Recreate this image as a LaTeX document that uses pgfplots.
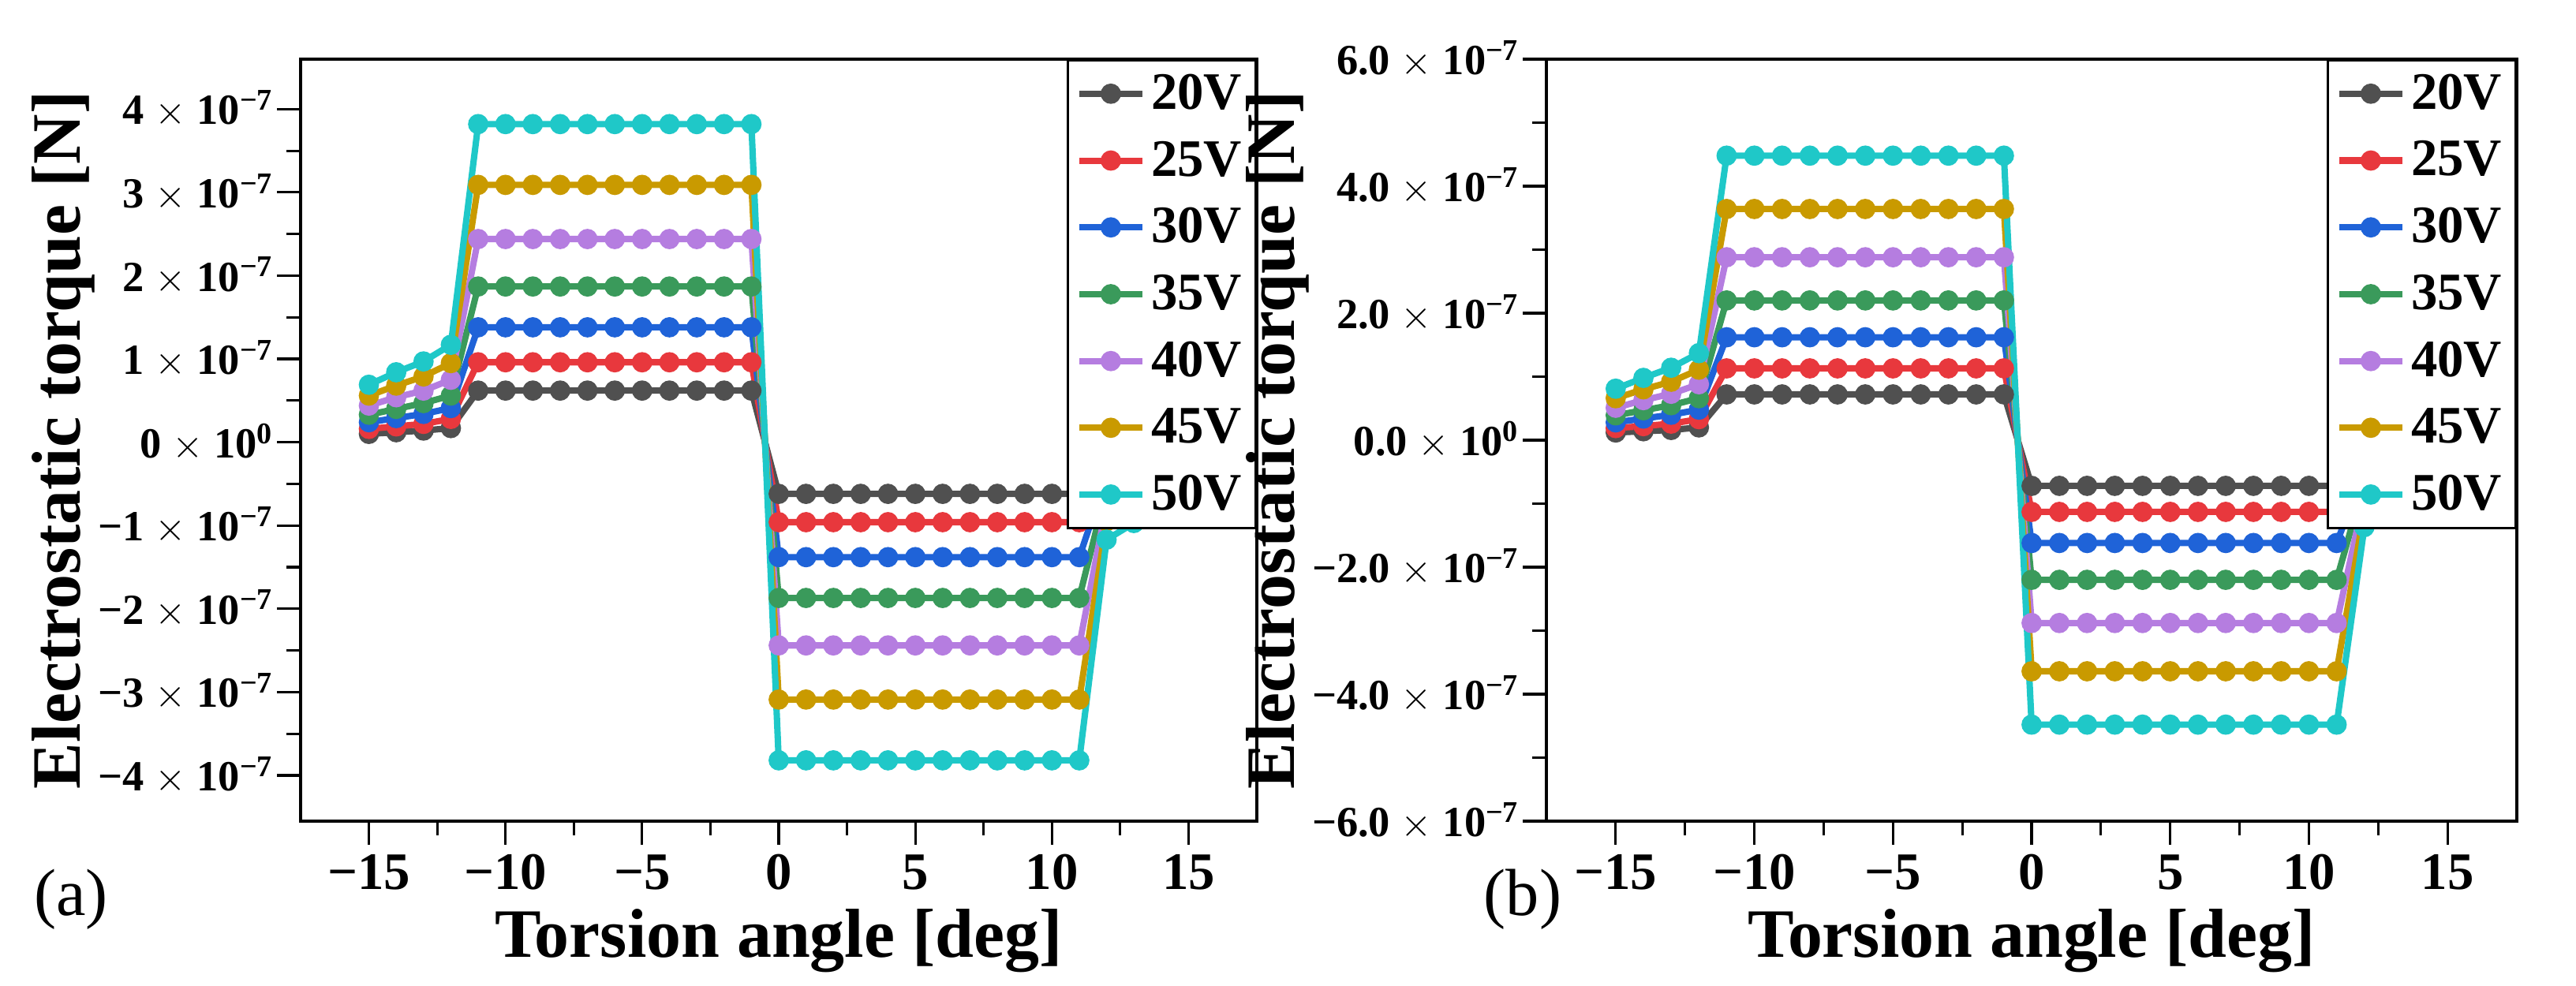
\documentclass[border=0pt]{standalone}
\usepackage{pgfplots}
\pgfplotsset{compat=1.18}
\usepackage{pgfplotstable}
\usepackage{fontspec}
\setmainfont{Liberation Serif}
\definecolor{c20}{HTML}{505050}
\definecolor{c25}{HTML}{E8383D}
\definecolor{c30}{HTML}{1F63D8}
\definecolor{c35}{HTML}{3A9A5B}
\definecolor{c40}{HTML}{B57DE0}
\definecolor{c45}{HTML}{C99A00}
\definecolor{c50}{HTML}{1FC8C8}
\pgfplotstableread{
x a b c d e f g
-15 0.10 0.16 0.24 0.33 0.44 0.56 0.69
-14 0.12 0.19 0.29 0.40 0.54 0.68 0.84
-13 0.14 0.22 0.34 0.47 0.62 0.79 0.97
-12 0.17 0.28 0.41 0.56 0.75 0.95 1.17
-11 0.62 0.96 1.38 1.87 2.44 3.09 3.82
-10 0.62 0.96 1.38 1.87 2.44 3.09 3.82
-9 0.62 0.96 1.38 1.87 2.44 3.09 3.82
-8 0.62 0.96 1.38 1.87 2.44 3.09 3.82
-7 0.62 0.96 1.38 1.87 2.44 3.09 3.82
-6 0.62 0.96 1.38 1.87 2.44 3.09 3.82
-5 0.62 0.96 1.38 1.87 2.44 3.09 3.82
-4 0.62 0.96 1.38 1.87 2.44 3.09 3.82
-3 0.62 0.96 1.38 1.87 2.44 3.09 3.82
-2 0.62 0.96 1.38 1.87 2.44 3.09 3.82
-1 0.62 0.96 1.38 1.87 2.44 3.09 3.82
0 -0.62 -0.96 -1.38 -1.87 -2.44 -3.09 -3.82
1 -0.62 -0.96 -1.38 -1.87 -2.44 -3.09 -3.82
2 -0.62 -0.96 -1.38 -1.87 -2.44 -3.09 -3.82
3 -0.62 -0.96 -1.38 -1.87 -2.44 -3.09 -3.82
4 -0.62 -0.96 -1.38 -1.87 -2.44 -3.09 -3.82
5 -0.62 -0.96 -1.38 -1.87 -2.44 -3.09 -3.82
6 -0.62 -0.96 -1.38 -1.87 -2.44 -3.09 -3.82
7 -0.62 -0.96 -1.38 -1.87 -2.44 -3.09 -3.82
8 -0.62 -0.96 -1.38 -1.87 -2.44 -3.09 -3.82
9 -0.62 -0.96 -1.38 -1.87 -2.44 -3.09 -3.82
10 -0.62 -0.96 -1.38 -1.87 -2.44 -3.09 -3.82
11 -0.62 -0.96 -1.38 -1.87 -2.44 -3.09 -3.82
12 -0.17 -0.28 -0.41 -0.56 -0.75 -0.95 -1.17
13 -0.14 -0.22 -0.34 -0.47 -0.62 -0.79 -0.97
14 -0.12 -0.19 -0.29 -0.40 -0.54 -0.68 -0.84
15 -0.10 -0.16 -0.24 -0.33 -0.44 -0.56 -0.69
}\tabA
\pgfplotstableread{
x a b c d e f g
-15 0.12 0.19 0.28 0.39 0.51 0.66 0.81
-14 0.14 0.22 0.34 0.47 0.63 0.80 0.98
-13 0.16 0.26 0.40 0.55 0.73 0.92 1.14
-12 0.20 0.33 0.48 0.66 0.88 1.11 1.37
-11 0.72 1.13 1.62 2.20 2.88 3.64 4.48
-10 0.72 1.13 1.62 2.20 2.88 3.64 4.48
-9 0.72 1.13 1.62 2.20 2.88 3.64 4.48
-8 0.72 1.13 1.62 2.20 2.88 3.64 4.48
-7 0.72 1.13 1.62 2.20 2.88 3.64 4.48
-6 0.72 1.13 1.62 2.20 2.88 3.64 4.48
-5 0.72 1.13 1.62 2.20 2.88 3.64 4.48
-4 0.72 1.13 1.62 2.20 2.88 3.64 4.48
-3 0.72 1.13 1.62 2.20 2.88 3.64 4.48
-2 0.72 1.13 1.62 2.20 2.88 3.64 4.48
-1 0.72 1.13 1.62 2.20 2.88 3.64 4.48
0 -0.72 -1.13 -1.62 -2.20 -2.88 -3.64 -4.48
1 -0.72 -1.13 -1.62 -2.20 -2.88 -3.64 -4.48
2 -0.72 -1.13 -1.62 -2.20 -2.88 -3.64 -4.48
3 -0.72 -1.13 -1.62 -2.20 -2.88 -3.64 -4.48
4 -0.72 -1.13 -1.62 -2.20 -2.88 -3.64 -4.48
5 -0.72 -1.13 -1.62 -2.20 -2.88 -3.64 -4.48
6 -0.72 -1.13 -1.62 -2.20 -2.88 -3.64 -4.48
7 -0.72 -1.13 -1.62 -2.20 -2.88 -3.64 -4.48
8 -0.72 -1.13 -1.62 -2.20 -2.88 -3.64 -4.48
9 -0.72 -1.13 -1.62 -2.20 -2.88 -3.64 -4.48
10 -0.72 -1.13 -1.62 -2.20 -2.88 -3.64 -4.48
11 -0.72 -1.13 -1.62 -2.20 -2.88 -3.64 -4.48
12 -0.20 -0.33 -0.48 -0.66 -0.88 -1.11 -1.37
13 -0.16 -0.26 -0.40 -0.55 -0.73 -0.92 -1.14
14 -0.14 -0.22 -0.34 -0.47 -0.63 -0.80 -0.98
15 -0.12 -0.19 -0.28 -0.39 -0.51 -0.66 -0.81
}\tabB
\pgfplotsset{
  myax/.style={
    scale only axis, height=96.6mm,
    xmin=-17.5, xmax=17.5,
    xtick={-15,-10,...,15},
    xticklabels={−15,−10,−5,0,5,10,15},
    minor x tick num=1,
    tick align=outside, tick pos=left,
    major tick length=3mm, minor tick length=1.8mm,
    every tick/.style={black, line width=0.9pt},
    axis line style={line width=1.2pt},
    yticklabel style={font=\fontsize{15.5}{18}\selectfont\bfseries, inner sep=1pt},
    xticklabel style={font=\fontsize{19}{22}\selectfont\bfseries},
    label style={font=\fontsize{25}{28}\selectfont\bfseries},
    ylabel style={inner sep=0pt},
    xlabel={Torsion angle [deg]},
    ylabel={Electrostatic torque [N]},
    legend style={at={(1,1)}, anchor=north east, draw=black, line width=0.8pt,
      font=\fontsize{19}{22}\selectfont\bfseries, row sep=6pt,
      inner sep=3pt},
    legend cell align=left,
    every axis plot/.append style={line width=2.3pt, mark=*, mark size=2.5pt},
    legend image code/.code={\draw[##1] (0mm,0mm) -- (8mm,0mm); \draw[##1,only marks] plot coordinates {(4mm,0mm)};},
  }
}
\begin{document}
\begin{tikzpicture}
\path[use as bounding box] (0,0) rectangle (326.5mm,125mm);
\begin{axis}[myax, at={(38.1mm,20.9mm)}, width=121.2mm,
  ymin=-4.55, ymax=4.6, ytick={-4,...,4}, minor y tick num=1,
  yticklabels={{−4 $\times$ 10\textsuperscript{−7}},{−3 $\times$ 10\textsuperscript{−7}},{−2 $\times$ 10\textsuperscript{−7}},{−1 $\times$ 10\textsuperscript{−7}},{0 $\times$ 10\textsuperscript{0}},{1 $\times$ 10\textsuperscript{−7}},{2 $\times$ 10\textsuperscript{−7}},{3 $\times$ 10\textsuperscript{−7}},{4 $\times$ 10\textsuperscript{−7}}}]
\addplot[c20] table[x=x,y=a]{\tabA}; \addlegendentry{20V}
\addplot[c25] table[x=x,y=b]{\tabA}; \addlegendentry{25V}
\addplot[c30] table[x=x,y=c]{\tabA}; \addlegendentry{30V}
\addplot[c35] table[x=x,y=d]{\tabA}; \addlegendentry{35V}
\addplot[c40] table[x=x,y=e]{\tabA}; \addlegendentry{40V}
\addplot[c45] table[x=x,y=f]{\tabA}; \addlegendentry{45V}
\addplot[c50] table[x=x,y=g]{\tabA}; \addlegendentry{50V}
\end{axis}
\begin{axis}[myax, at={(196mm,20.9mm)}, width=123mm,
  ymin=-6, ymax=6, ytick={-6,-4,...,6}, minor y tick num=1,
  yticklabels={{−6.0 $\times$ 10\textsuperscript{−7}},{−4.0 $\times$ 10\textsuperscript{−7}},{−2.0 $\times$ 10\textsuperscript{−7}},{0.0 $\times$ 10\textsuperscript{0}},{2.0 $\times$ 10\textsuperscript{−7}},{4.0 $\times$ 10\textsuperscript{−7}},{6.0 $\times$ 10\textsuperscript{−7}}}]
\addplot[c20] table[x=x,y=a]{\tabB}; \addlegendentry{20V}
\addplot[c25] table[x=x,y=b]{\tabB}; \addlegendentry{25V}
\addplot[c30] table[x=x,y=c]{\tabB}; \addlegendentry{30V}
\addplot[c35] table[x=x,y=d]{\tabB}; \addlegendentry{35V}
\addplot[c40] table[x=x,y=e]{\tabB}; \addlegendentry{40V}
\addplot[c45] table[x=x,y=f]{\tabB}; \addlegendentry{45V}
\addplot[c50] table[x=x,y=g]{\tabB}; \addlegendentry{50V}
\end{axis}
\node[font=\fontsize{24}{28}\selectfont] at (9mm,11mm) {(a)};
\node[font=\fontsize{24}{28}\selectfont] at (193mm,11mm) {(b)};
\end{tikzpicture}
\end{document}
